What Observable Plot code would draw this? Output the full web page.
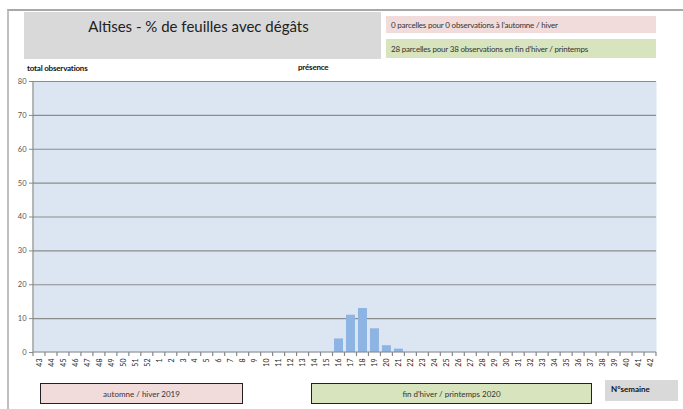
<!DOCTYPE html>
<html>
<head>
<meta charset="utf-8">
<script src="https://cdn.jsdelivr.net/npm/d3@7"></script>
<script src="https://cdn.jsdelivr.net/npm/@observablehq/plot@0.6"></script>
<style>
  html, body { margin: 0; padding: 0; background: #fff; }
  #wrap { position: relative; width: 683px; height: 409px; overflow: hidden; font-family: Lato, "Open Sans", sans-serif; }
  #wrap svg { position: absolute; left: 0; top: 0; }
  .box { position: absolute; box-sizing: border-box; display: flex; align-items: center; color: #222; }
  .lbl { position: absolute; font-weight: bold; font-size: 8px; color: #111; letter-spacing: -0.2px; }
</style>
</head>
<body>
<div id="wrap"></div>
<script>
// ---- data ----
const weeks = ["43","44","45","46","47","48","49","50","51","52",
  "1","2","3","4","5","6","7","8","9","10","11","12","13","14","15","16","17","18","19","20",
  "21","22","23","24","25","26","27","28","29","30","31","32","33","34","35","36","37","38","39","40","41","42"];
const barWeeks = ["16","17","18","19","20","21"];
const barValues = [4, 11, 13, 7, 2, 1];
const yTicks = [0,10,20,30,40,50,60,70,80];
const title = "Altises - % de feuilles avec dégâts";
const noteAutumn = "0 parcelles pour 0 observations à l'automne / hiver";
const noteSpring = "28 parcelles pour 38 observations en fin d'hiver / printemps";
const periodAutumn = "automne / hiver 2019";
const periodSpring = "fin d'hiver / printemps 2020";
const yLabel = "total observations";
const midLabel = "présence";
const xLabel = "N°semaine";

const data = barWeeks.map((w, i) => ({week: w, value: barValues[i]}));

const plot = Plot.plot({
  width: 683,
  height: 409,
  marginLeft: 33,
  marginRight: 27,
  marginTop: 81,
  marginBottom: 57,
  style: {fontFamily: "Lato, 'Open Sans', sans-serif", background: "transparent", overflow: "visible"},
  x: {domain: weeks, paddingInner: 0.25, paddingOuter: 0.125, label: null},
  y: {domain: [0, 80], label: null},
  marks: [
    Plot.frame({fill: "#dce6f2", stroke: null}),
    Plot.gridY(yTicks.filter(d => d > 0), {stroke: "#8c8c8c", strokeOpacity: 1, strokeWidth: 1.2}),
    Plot.barY(data, {x: "week", y: "value", fill: "#8db4e2"}),
    Plot.axisY(yTicks, {tickSize: 4, tickPadding: 3, fontSize: 7.5, fill: "#555", stroke: "#888"}),
    Plot.axisX({tickSize: 0, tickPadding: 6, tickRotate: -90, fontSize: 7, fill: "#222"})
  ]
});

const wrap = document.getElementById("wrap");

// frame of the whole chart area
const frame = document.createElement("div");
frame.style.cssText = "position:absolute;left:7px;top:9px;width:690px;height:420px;border-top:2px solid #a8a8a8;border-left:2px solid #c0c0c0;box-sizing:border-box;";
wrap.appendChild(frame);

wrap.appendChild(plot);

// axis lines and category boundary ticks from the plot's own x scale
const sx = plot.scale("x"), sy = plot.scale("y");
const svg = d3.select(plot);
const x0 = sx.range[0], x1 = sx.range[1];
const yb = sy.apply(0), yt = sy.apply(80);
const g = svg.append("g").attr("stroke", "#888").attr("stroke-width", 1.2);
g.append("line").attr("x1", x0).attr("x2", x0).attr("y1", yt).attr("y2", yb);
g.append("line").attr("x1", x0).attr("x2", x1).attr("y1", yb).attr("y2", yb);
const step = sx.step;
const bw = sx.bandwidth;
const bounds = weeks.map(w => sx.apply(w) + bw / 2 - step / 2).concat([sx.apply(weeks[weeks.length - 1]) + bw / 2 + step / 2]);
bounds.forEach(bx => g.append("line").attr("x1", bx).attr("x2", bx).attr("y1", yb).attr("y2", yb + 4));

function addBox(text, css, tcss) {
  const d = document.createElement("div");
  d.className = "box";
  d.style.cssText += css;
  const s = document.createElement("span");
  s.textContent = text;
  s.style.cssText = tcss;
  d.appendChild(s);
  wrap.appendChild(d);
}
addBox(title, "left:24px;top:12px;width:357px;height:47px;background:#d9d9d9;align-items:flex-start;justify-content:center;",
  "font-size:15px;margin-top:5px;margin-left:-8px;color:#222;");
addBox(noteAutumn, "left:386px;top:16px;width:270px;height:17px;background:#f2dcdb;",
  "font-size:8px;margin-left:5px;color:#333;letter-spacing:-0.2px;");
addBox(noteSpring, "left:386px;top:39px;width:270px;height:19px;background:#d7e4bd;",
  "font-size:8px;margin-left:5px;color:#333;letter-spacing:-0.2px;");
addBox(periodAutumn, "left:40px;top:383px;width:203px;height:21px;background:#f2dcdb;border:1.5px solid #222;justify-content:center;",
  "font-size:8px;color:#333;");
addBox(periodSpring, "left:311px;top:383px;width:281px;height:21px;background:#d7e4bd;border:1.5px solid #222;justify-content:center;",
  "font-size:8px;color:#333;");
addBox(xLabel, "left:605px;top:380px;width:73px;height:21px;background:#d9d9d9;justify-content:flex-start;",
  "font-size:8px;font-weight:bold;margin-left:6px;margin-top:-3px;color:#111;");

const l1 = document.createElement("div");
l1.className = "lbl"; l1.textContent = yLabel; l1.style.left = "27px"; l1.style.top = "63px";
wrap.appendChild(l1);
const l2 = document.createElement("div");
l2.className = "lbl"; l2.textContent = midLabel; l2.style.left = "298px"; l2.style.top = "62px";
wrap.appendChild(l2);
</script>
</body>
</html>
